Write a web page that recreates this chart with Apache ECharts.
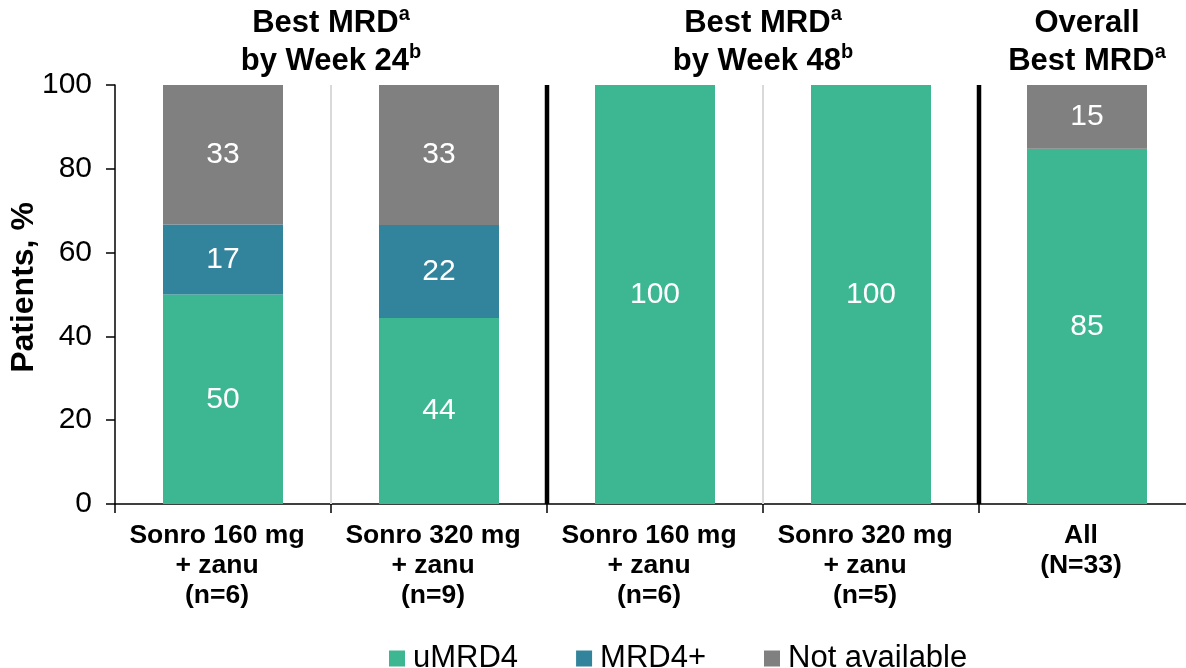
<!DOCTYPE html>
<html>
<head>
<meta charset="utf-8">
<script src="https://cdn.jsdelivr.net/npm/echarts@6/dist/echarts.min.js"></script>
<style>
html,body{margin:0;padding:0;background:#fff;}
#c{width:1186px;height:668px;}
</style>
</head>
<body>
<div id="c"></div>
<script>
// ---- data ----
const categories = [
  'Sonro 160 mg\n+ zanu\n(n=6)',
  'Sonro 320 mg\n+ zanu\n(n=9)',
  'Sonro 160 mg\n+ zanu\n(n=6)',
  'Sonro 320 mg\n+ zanu\n(n=5)',
  'All\n(N=33)'
];
const seriesNames = ['uMRD4', 'MRD4+', 'Not available'];
const uMRD4 = [50, 44.4, 100, 100, 84.8];
const mrd4Plus = [16.7, 22.2, 0, 0, 0];
const notAvailable = [33.3, 33.4, 0, 0, 15.2];
const yMin = 0, yMax = 100, yStep = 20;
const groupTitles = [
  '{m|Best MRD}{s|a}\n{m|by Week 24}{s|b}',
  '{m|Best MRD}{s|a}\n{m|by Week 48}{s|b}',
  '{m|Overall}\n{m|Best MRD}{s|a}'
];
const groupSpans = [[0, 1], [2, 3], [4, 4]];
const dividerAfter = [0, 1, 2, 3];
const dividerKinds = ['minor', 'major', 'minor', 'major'];

// ---- style ----
const FONT = "'Liberation Sans', Arial, sans-serif";
const colors = ['#3DB692', '#31849B', '#808080'];

const labelOpt = {
  show: true,
  position: 'inside',
  color: '#fff',
  fontSize: 30,
  fontFamily: FONT,
  formatter: p => (p.value > 0 ? String(Math.round(p.value)) : '')
};

function barSeries(name, data, color) {
  return {
    name: name,
    type: 'bar',
    stack: 'total',
    barWidth: 120,
    data: data,
    itemStyle: { color: color },
    label: labelOpt,
    emphasis: { disabled: true }
  };
}

const option = {
  animation: false,
  textStyle: { fontFamily: FONT },
  grid: { left: 115, right: -9, top: 85, bottom: 164, containLabel: false, outerBoundsMode: 'none' },
  legend: {
    data: seriesNames,
    left: 389,
    top: 643,
    padding: 0,
    itemWidth: 16,
    itemHeight: 16,
    itemGap: 58,
    icon: 'rect',
    textStyle: { fontSize: 31, color: '#000', fontFamily: FONT, padding: [0, 0, 0, 3] }
  },
  xAxis: {
    type: 'category',
    data: categories,
    axisLine: { lineStyle: { color: '#000', width: 1.5 } },
    axisTick: { show: true, length: 9, lineStyle: { color: '#000', width: 1.5 } },
    axisLabel: {
      interval: 0,
      color: '#000',
      fontSize: 26.5,
      fontWeight: 'bold',
      lineHeight: 30,
      margin: 17,
      padding: [0, 12, 0, 0],
      fontFamily: FONT
    },
    splitLine: { show: false }
  },
  yAxis: {
    type: 'value',
    min: yMin,
    max: yMax,
    interval: yStep,
    name: 'Patients, %',
    nameLocation: 'middle',
    nameGap: 75,
    nameMoveOverlap: false,
    nameTextStyle: { fontSize: 32, fontWeight: 'bold', color: '#000', fontFamily: FONT, padding: [0, 0, 0, 14] },
    axisLine: { show: true, lineStyle: { color: '#000', width: 1.5 } },
    axisTick: { show: true, length: 9, lineStyle: { color: '#000', width: 1.5 } },
    axisLabel: { color: '#000', fontSize: 30, margin: 23, fontFamily: FONT },
    splitLine: { show: false }
  },
  series: [
    barSeries(seriesNames[0], uMRD4, colors[0]),
    barSeries(seriesNames[1], mrd4Plus, colors[1]),
    barSeries(seriesNames[2], notAvailable, colors[2]),
    {
      type: 'custom',
      silent: true,
      z: 5,
      data: dividerAfter.map(i => [i]),
      encode: { x: 0 },
      renderItem: function (params, api) {
        const i = api.value(0);
        const p0 = api.coord([i, yMin]);
        const p1 = api.coord([i, yMax]);
        const band = api.size([1, 0])[0];
        const x = p0[0] + band / 2;
        const major = dividerKinds[params.dataIndex] === 'major';
        return {
          type: 'line',
          shape: { x1: x, y1: p0[1], x2: x, y2: p1[1] },
          style: { stroke: major ? '#000' : '#d9d9d9', lineWidth: major ? 4.5 : 2 }
        };
      }
    }
  ]
};

const chart = echarts.init(document.getElementById('c'), null, { renderer: 'canvas' });
chart.setOption(option);

const titleGraphics = groupTitles.map((t, k) => {
  const a = groupSpans[k][0], b = groupSpans[k][1];
  const xa = chart.convertToPixel({ xAxisIndex: 0 }, a);
  const xb = chart.convertToPixel({ xAxisIndex: 0 }, b);
  return {
    type: 'text',
    x: (xa + xb) / 2,
    y: 4,
    style: {
      text: t,
      align: 'center',
      verticalAlign: 'top',
      fill: '#000',
      rich: {
        m: { fontSize: 31, fontWeight: 'bold', fontFamily: FONT, lineHeight: 38, fill: '#000' },
        s: { fontSize: 20, fontWeight: 'bold', fontFamily: FONT, lineHeight: 26, verticalAlign: 'top', fill: '#000' }
      }
    }
  };
});
chart.setOption({ graphic: titleGraphics });
</script>
</body>
</html>
